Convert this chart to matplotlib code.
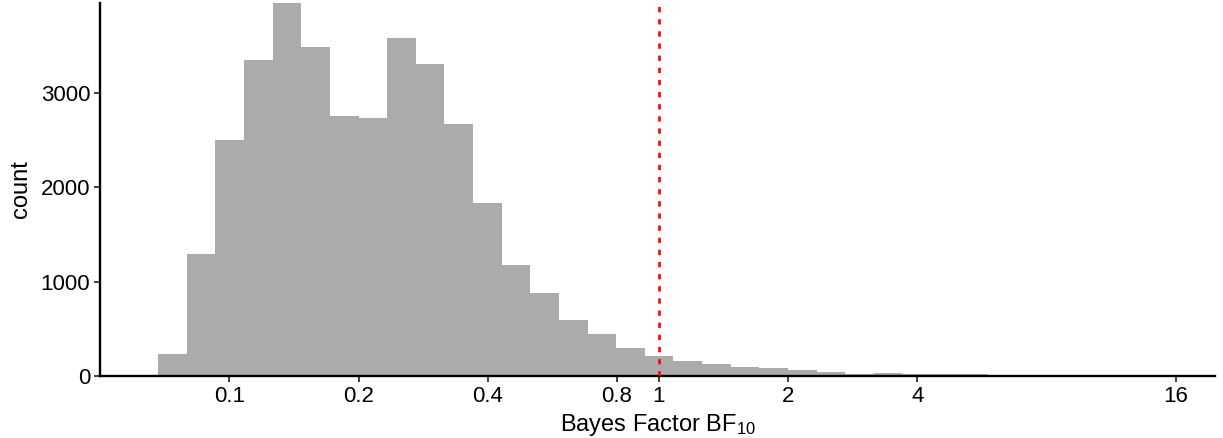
import numpy as np
import matplotlib
matplotlib.use("Agg")
import matplotlib.pyplot as plt

plt.rcParams['font.family'] = ['Liberation Sans', 'DejaVu Sans']
plt.rcParams['mathtext.fontset'] = 'custom'
plt.rcParams['mathtext.rm'] = 'Liberation Sans'
plt.rcParams['mathtext.it'] = 'Liberation Sans:italic'

# Histogram on log10 scale, binwidth 1/15 decade, an edge at 0.2
bin_start_k = -7
bin_width_log10 = 1 / 15
counts = [233, 1291, 2497, 3344, 3950, 3481, 2751, 2730, 3577, 3302,
          2667, 1831, 1175, 878, 593, 444, 296, 212, 159, 127,
          95, 85, 63, 42, 20, 32, 17, 17, 17, 8,
          7, 6, 2, 2, 1, 1]
x_ticks = [0.1, 0.2, 0.4, 0.8, 1, 2, 4, 16]
x_tick_labels = ["0.1", "0.2", "0.4", "0.8", "1", "2", "4", "16"]
y_ticks = [0, 1000, 2000, 3000]
threshold = 1

W, H = 1223, 438
fig = plt.figure(figsize=(W / 100, H / 100), dpi=100)
ax = fig.add_axes([100 / W, (H - 376) / H, (1215 - 100) / W, (376 - 3) / H])

ks = np.arange(bin_start_k, bin_start_k + len(counts))
left_edges = 0.2 * 10 ** (ks * bin_width_log10)
right_edges = 0.2 * 10 ** ((ks + 1) * bin_width_log10)
ax.bar(left_edges, counts, width=right_edges - left_edges, align='edge',
       color='#ababab', edgecolor='none', linewidth=0)

ax.axvline(threshold, color='#ff0000', linewidth=1.9, dashes=(2.0, 2.6), zorder=3)

ax.set_xscale('log', base=2)
ax.set_xlim(0.05, 19.75)
ax.set_ylim(0, 3950)
ax.set_xticks(x_ticks)
ax.set_xticklabels(x_tick_labels)
ax.xaxis.set_minor_locator(matplotlib.ticker.NullLocator())
ax.set_yticks(y_ticks)
ax.set_yticklabels([str(v) for v in y_ticks])

for s in ['top', 'right']:
    ax.spines[s].set_visible(False)
for s in ['left', 'bottom']:
    ax.spines[s].set_linewidth(1.7)
    ax.spines[s].set_color('black')

ax.tick_params(axis='both', length=4, width=1.3, color='#333333',
               labelsize=16, labelcolor='black', pad=3)

ax.set_xlabel(r'Bayes Factor BF$_{\mathrm{10}}$', fontsize=17, labelpad=4)
ax.set_ylabel('count', fontsize=17, labelpad=6)

fig.savefig('out.png', dpi=100)
